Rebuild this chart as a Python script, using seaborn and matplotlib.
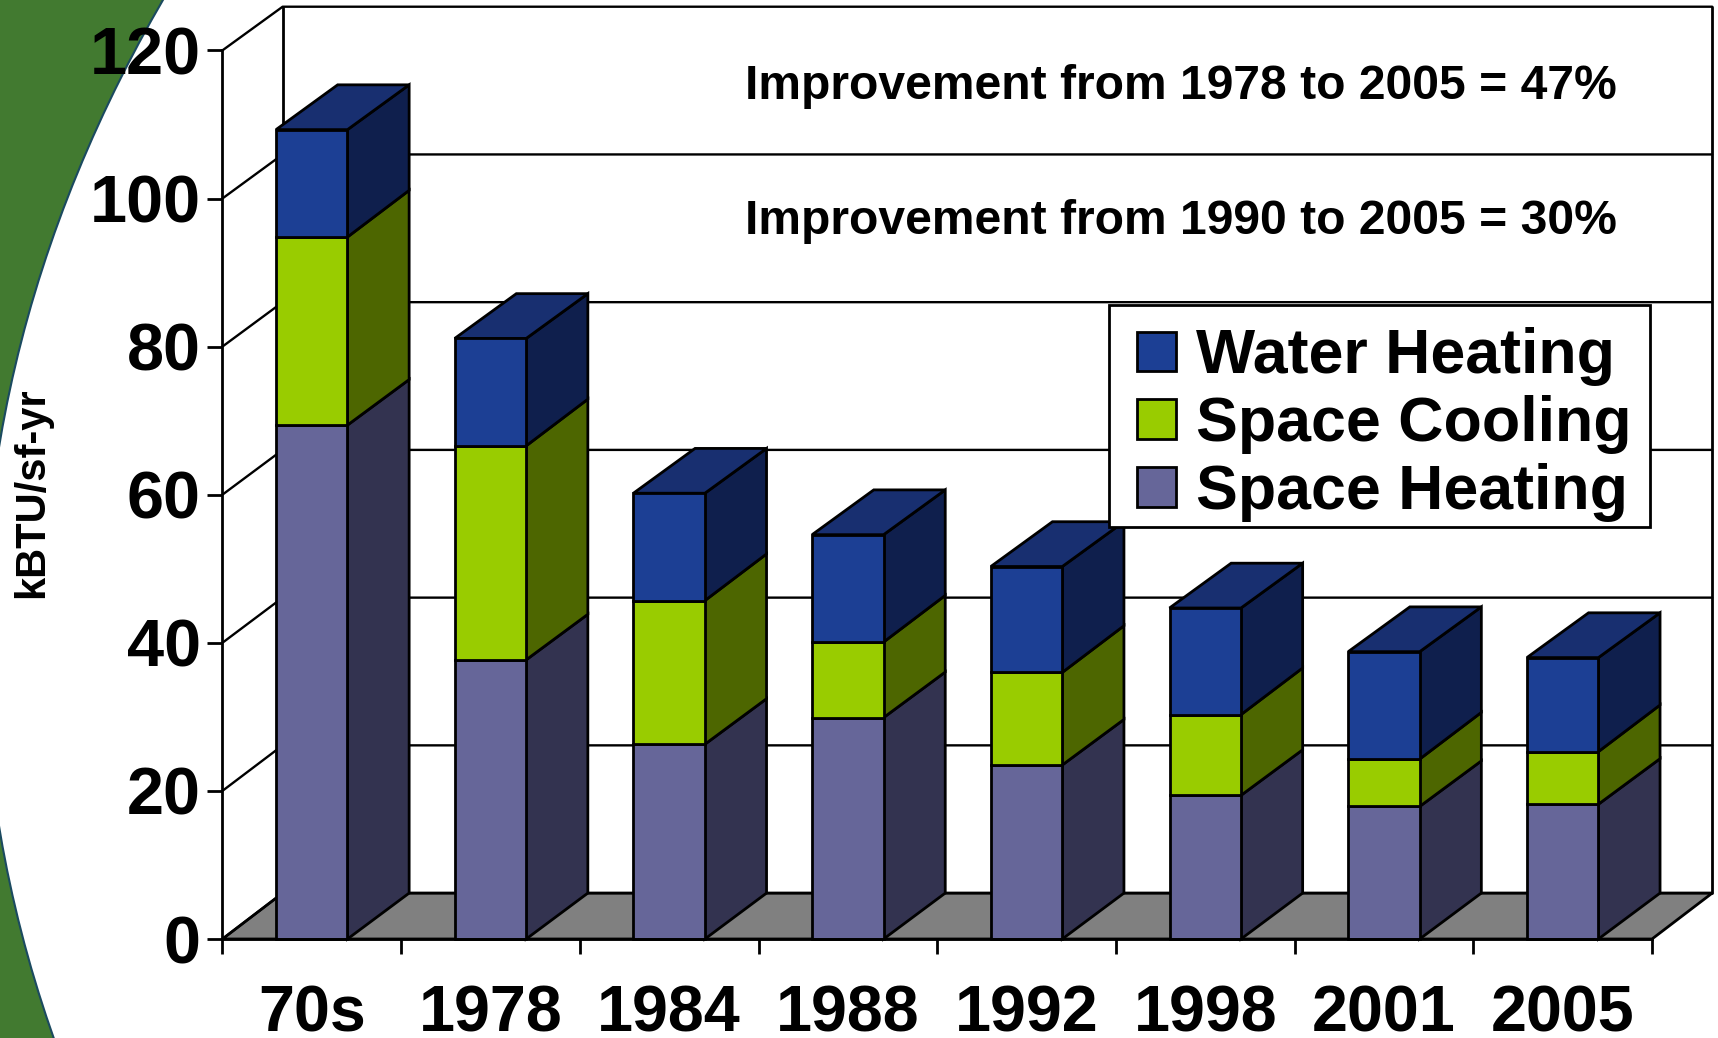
import matplotlib
matplotlib.use('Agg')
import matplotlib.pyplot as plt
from matplotlib.patches import Ellipse, Patch, Polygon, Rectangle
import seaborn as sns

years = ['70s', '1978', '1984', '1988', '1992', '1998', '2001', '2005']
space_heating = [69.4, 37.7, 26.3, 29.9, 23.5, 19.4, 17.9, 18.2]
space_cooling = [25.4, 28.9, 19.4, 10.2, 12.5, 10.9, 6.4, 7.1]
water_heating = [14.5, 14.5, 14.5, 14.5, 14.3, 14.4, 14.5, 12.7]
y_ticks = [0, 20, 40, 60, 80, 100, 120]
notes = ['Improvement from 1978 to 2005 = 47%', 'Improvement from 1990 to 2005 = 30%']

W, H = 1718, 1038
front = {'Water Heating': '#1C3F94', 'Space Cooling': '#99CC00', 'Space Heating': '#666699'}
side = {'Water Heating': '#0F1F4D', 'Space Cooling': '#4D6600', 'Space Heating': '#333350'}
top_col = '#182F70'
bar_w = 0.40
dx = 0.345   # the fake 3d depth, in data units
floor_dy = 6.2
lw = 2.0
# rise of the top edge of each layer, not quite constant in the original
layer_dy = {'Space Heating': 6.15, 'Space Cooling': 6.3, 'Water Heating': 6.05}


def wall_y(v):
    # back wall is a bit squeezed compared to the front axis
    return floor_dy + v * 119.7 / 120


sns.set_theme(style='white')
plt.rcParams['font.family'] = ['Liberation Sans', 'DejaVu Sans']
plt.rcParams['font.weight'] = 'bold'
plt.rcParams['text.color'] = 'black'
plt.rcParams['axes.labelcolor'] = 'black'
plt.rcParams['xtick.color'] = 'black'
plt.rcParams['ytick.color'] = 'black'

fig = plt.figure(figsize=(W / 100, H / 100), dpi=100, facecolor='white')

# slide background
bg = fig.add_axes([0, 0, 1, 1], zorder=0)
bg.set_xlim(0, W)
bg.set_ylim(H, 0)
bg.axis('off')
bg.axvspan(0, W, color='#427A30', lw=0)
bg.add_patch(Ellipse((3433.5, 636.6), 2 * 3450, 2 * 2000, facecolor='white', edgecolor='#1B4A60', lw=1.5))

ax = fig.add_axes([222.4 / W, 1 - 939 / H, (1652 - 222.4) / W, (939 - 50.4) / H], zorder=1)
ax.patch.set_visible(False)

# floor and walls
x0, x1 = -0.5, len(years) - 0.5
wx0, wx1 = x0 + 0.337, x1 + 0.337
ax.add_patch(Polygon([(x0, 0), (x1, 0), (wx1, floor_dy), (wx0, floor_dy)], closed=True, facecolor='#808080',
                     edgecolor='black', lw=lw, zorder=1, clip_on=False))
for v in y_ticks:
    ax.plot([x0, wx0, wx1], [v, wall_y(v), wall_y(v)], color='black', lw=lw * 0.85, zorder=1, clip_on=False)
ax.plot([wx0, wx0], [floor_dy, wall_y(y_ticks[-1])], color='black', lw=lw, zorder=1, clip_on=False)
ax.plot([wx1, wx1], [floor_dy, wall_y(y_ticks[-1])], color='black', lw=lw, zorder=1, clip_on=False)

# stacked front faces
bottoms = [0] * len(years)
low_dy = floor_dy
stack = [('Space Heating', space_heating), ('Space Cooling', space_cooling), ('Water Heating', water_heating)]
for name, vals in stack:
    sns.barplot(x=years, y=vals, bottom=bottoms, color=front[name], saturation=1, width=bar_w, edgecolor='black',
                linewidth=lw, zorder=3, ax=ax, clip_on=False)
    # right side faces
    up_dy = layer_dy[name]
    for i, (b, v) in enumerate(zip(bottoms, vals)):
        r = i + bar_w / 2
        t = b + v
        ax.add_patch(Polygon([(r, b), (r + dx, b + low_dy), (r + dx, t + up_dy), (r, t)], closed=True,
                             facecolor=side[name], edgecolor='black', lw=lw, zorder=2, clip_on=False))
    bottoms = [b + v for b, v in zip(bottoms, vals)]
    low_dy = up_dy

for i, t in enumerate(bottoms):
    l, r = i - bar_w / 2, i + bar_w / 2
    ax.add_patch(Polygon([(l, t), (r, t), (r + dx, t + low_dy), (l + dx, t + low_dy)], closed=True, facecolor=top_col,
                         edgecolor='black', lw=lw, zorder=2, clip_on=False))

ax.set_xlim(x0, x1)
ax.set_ylim(0, 120)
sns.despine(ax=ax)
for s in ['left', 'bottom']:
    ax.spines[s].set_linewidth(lw)
    ax.spines[s].set_color('black')
    ax.spines[s].set_zorder(4)

ax.set_yticks(y_ticks)
ax.set_yticklabels(y_ticks, fontsize=48, fontweight='bold')
ax.set_xticks([i - 0.5 for i in range(len(years) + 1)])
ax.set_xticklabels([])
ax.set_xticks(range(len(years)), years, minor=True, fontsize=46.5, fontweight='bold')
ax.tick_params(axis='both', which='major', length=10.5, width=lw, color='black', left=True, bottom=True)
ax.tick_params(axis='y', which='major', pad=5)
ax.tick_params(axis='x', which='minor', length=0, pad=32.5)
ax.set_xlabel('')
ax.set_ylabel('kBTU/sf-yr', fontsize=30, fontweight='bold')
ax.yaxis.set_label_coords(-0.119, 0.502)

for txt, py in zip(notes, [86.5, 221.5]):
    fig.text(1181 / W, 1 - py / H, txt, ha='center', va='center', fontsize=34.6, fontweight='bold', zorder=5)

# legend box is wider than the padding of a normal legend frame, so draw it apart
ax.add_patch(Rectangle((1109 / W, 1 - 527 / H), 541 / W, 222.4 / H, transform=fig.transFigure, facecolor='white',
                       edgecolor='black', lw=lw, zorder=9, clip_on=False))
handles = [Patch(facecolor=front[n], edgecolor='black', lw=lw, label=n) for n in front]
leg = ax.legend(handles=handles, loc='upper left', bbox_to_anchor=(1137 / W, 1 - 327.5 / H),
                bbox_transform=fig.transFigure, borderaxespad=0, fontsize=45.1, frameon=False,
                handlelength=0.62, handleheight=0.6, handletextpad=0.32, labelspacing=0.14, borderpad=0)
leg.set_zorder(10)

fig.savefig('out.png', dpi=100)
